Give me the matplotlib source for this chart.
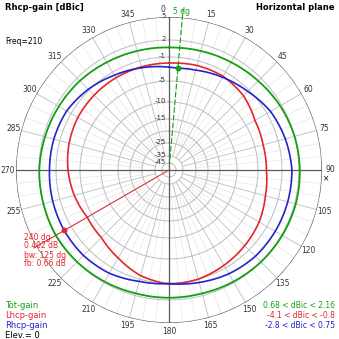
import matplotlib
matplotlib.use("Agg")
import matplotlib.pyplot as plt
import numpy as np

# azimuth samples (deg) and gains (dBic)
ANGLES = [0, 5, 15, 30, 45, 60, 75, 90, 105, 120, 135, 150, 165, 180,
          195, 210, 225, 240, 255, 270, 285, 300, 315, 330, 345, 360]
TOT_GAIN = [0.68, 0.7, 0.8, 1.0, 1.3, 1.7, 2.0, 2.1, 2.16, 2.1, 2.0, 1.8, 1.6, 1.6,
            1.6, 1.8, 2.0, 2.1, 2.0, 1.95, 1.7, 1.5, 1.3, 1.0, 0.8, 0.68]
LHCP_GAIN = [-2.0, -1.95, -1.8, -1.8, -2.3, -3.3, -3.6, -3.6, -3.2, -2.5, -2.0, -1.5, -1.0, -0.8,
             -1.6, -2.9, -3.9, -4.1, -3.5, -3.0, -2.6, -2.3, -2.2, -2.1, -2.05, -2.0]
RHCP_GAIN = [-2.7, -2.8, -2.6, -2.0, -1.3, -0.26, 0.3, 0.75, 0.75, 0.7, 0.6, 0.2, -0.4, -0.9,
             -0.6, 0.1, 0.4, 0.402, 0.3, 0.15, 0.1, -0.1, -0.8, -1.6, -2.2, -2.7]

RING_VALUES = [5, 2, -1, -5, -10, -15, -20, -25, -35, -45]
RING_LABELS = ["5", "2", "-1", "-5", "-10", "-15", "-25", "-35", "-45"]

MARK_ANGLE, MARK_GAIN = 240, 0.402
MIN_ANGLE, MIN_GAIN = 5, -2.8
MARK_TEXT = ["240 dg", "0.402 dB", "bw: 125 dg", "fb: 0.66 dB"]
RANGES = ["0.68 < dBic < 2.16", "-4.1 < dBic < -0.8", "-2.8 < dBic < 0.75"]
NAMES = ["Tot-gain", "Lhcp-gain", "Rhcp-gain"]

GREEN = "#12a012"
RED = "#e3262a"
BLUE = "#2323cc"
GRID = "#bdbdbd"
GRID_LIGHT = "#e6e6e6"
AXIS = "#5a5a5a"

# dB -> pixel radius of the plotter's log-like radial scale
KNOT_DB = [-45, -35, -25, -15, -10, -5, -1, 2, 5]
KNOT_PX = [7, 14, 27, 51, 68, 89, 113, 130, 153]


def rad(db):
    return np.interp(db, KNOT_DB, KNOT_PX)


def curve(ax, theta, r, **kw):
    # let the polar transform bend each segment instead of drawing chords
    ln, = ax.plot(theta, r, **kw)
    ln.get_path()._interpolation_steps = 30
    return ln


W = 339
CX, CY, R = 169, 170, 153
fig = plt.figure(figsize=(W / 100, W / 100), dpi=100, facecolor="white")
ax = fig.add_axes([(CX - R) / W, (W - CY - R) / W, 2 * R / W, 2 * R / W],
                  projection="polar")
ax.set_theta_zero_location("N")
ax.set_theta_direction(-1)
ax.set_ylim(0, R)
ax.axis("off")

# grid: spokes every 5 deg, stronger every 15 deg, then rings
for a in range(0, 360, 5):
    t = np.deg2rad(a)
    if a % 90 == 0:
        continue
    if a % 15 == 0:
        ax.plot([t, t], [rad(-35), 158], color=GRID, lw=0.6, zorder=1)
    else:
        ax.plot([t, t], [rad(-25), R], color=GRID_LIGHT, lw=0.5, zorder=1)
th = np.linspace(0, 2 * np.pi, 400)
for v in RING_VALUES:
    ax.plot(th, np.full_like(th, rad(v)), color=AXIS if v == 5 else GRID,
            lw=0.9 if v == 5 else 0.7, zorder=2)
for a in (0, 90, 180, 270):
    ax.plot([np.deg2rad(a)] * 2, [0, 156], color=AXIS, lw=0.9, zorder=2)

# angle labels
for a in range(0, 360, 15):
    if a == 240:
        continue
    ta = a - 2 if a == 0 else a
    ax.text(np.deg2rad(ta), 161, str(a), fontsize=5.5, color="#333333",
            ha="center", va="center", clip_on=False)
fig.text(326 / W, 1 - 179 / W, "×", fontsize=5.5, ha="center", va="center")

# radial labels along the 0 deg axis
for lab in RING_LABELS:
    y = CY - rad(float(lab))
    fig.text(166 / W, 1 - (y - 1) / W, lab, fontsize=5, color="#333333",
             ha="right", va="center")

# gain curves
t = np.deg2rad(ANGLES)
curve(ax, t, rad(np.array(TOT_GAIN)), color=GREEN, lw=1.3, zorder=5)
curve(ax, t, rad(np.array(LHCP_GAIN)), color=RED, lw=1.2, zorder=5)
curve(ax, t, rad(np.array(RHCP_GAIN)), color=BLUE, lw=1.2, zorder=6)

# markers
tm = np.deg2rad(MARK_ANGLE)
ax.plot([tm, tm], [0, 156], color=RED, lw=0.7, zorder=4, clip_on=False)
ax.plot(tm, rad(MARK_GAIN), "o", color=RED, ms=3.2, zorder=7)
tn = np.deg2rad(MIN_ANGLE)
ax.plot([tn, tn], [3, 162], color=GREEN, lw=0.8, ls=(0, (5, 2)), zorder=4,
        clip_on=False)
ax.plot(tn, rad(MIN_GAIN), "o", color=GREEN, ms=3.2, zorder=7)
fig.text(173 / W, 1 - 12 / W, "5 dg", fontsize=5.5, color=GREEN,
         ha="left", va="center")
for i, s in enumerate(MARK_TEXT):
    fig.text(24 / W, 1 - (237 + 9 * i) / W, s, fontsize=5.5, color=RED,
             ha="left", va="center")

# headings and legends
fig.text(5 / W, 1 - 8 / W, "Rhcp-gain [dBic]", fontsize=6, weight="bold",
         ha="left", va="center")
fig.text(5 / W, 1 - 42 / W, "Freq=210", fontsize=5.5, ha="left", va="center")
fig.text(334 / W, 1 - 8 / W, "Horizontal plane", fontsize=6, weight="bold",
         ha="right", va="center")
for i, (n, rg, c) in enumerate(zip(NAMES, RANGES, [GREEN, RED, BLUE])):
    fig.text(5 / W, 1 - (305 + 10 * i) / W, n, fontsize=6, color=c,
             ha="left", va="center")
    fig.text(335 / W, 1 - (305 + 10.5 * i) / W, rg, fontsize=5.5, color=c,
             ha="right", va="center")
fig.text(5 / W, 1 - 335 / W, "Elev.= 0", fontsize=6, ha="left", va="center")

fig.savefig("out.png", dpi=100, facecolor="white")
